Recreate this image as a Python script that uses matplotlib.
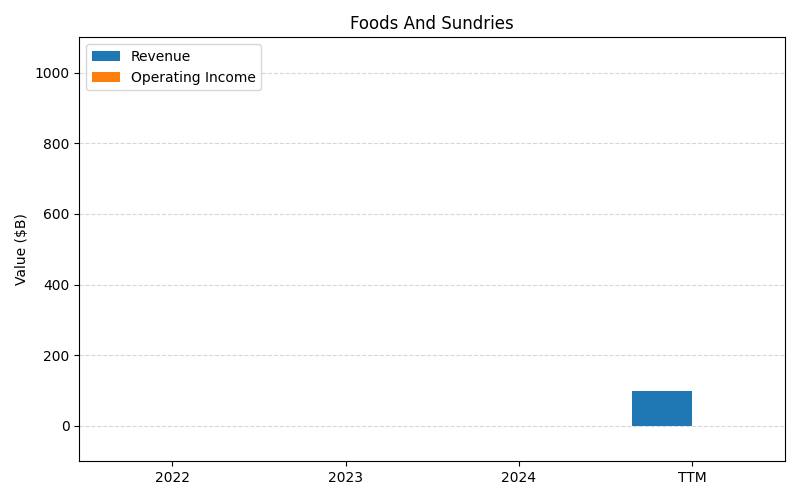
import matplotlib
matplotlib.use("Agg")
import matplotlib.pyplot as plt
import numpy as np

periods = ["2022", "2023", "2024", "TTM"]
revenue = [0, 0, 0, 100]
operating_income = [0, 0, 0, 0]

x = np.arange(len(periods))
width = 0.35

fig, ax = plt.subplots(figsize=(8, 5), dpi=100)
ax.bar(x - width / 2, revenue, width, label="Revenue", color="#1f77b4")
ax.bar(x + width / 2, operating_income, width, label="Operating Income", color="#ff7f0e")
ax.set_xticks(x)
ax.set_xticklabels(periods)
ax.set_ylim(-100, 1100)
ax.set_ylabel("Value ($B)")
ax.set_title("Foods And Sundries")
ax.yaxis.grid(True, linestyle="--", alpha=0.5)
ax.set_axisbelow(True)
ax.legend(loc="upper left")
plt.tight_layout()
plt.savefig("out.png")
